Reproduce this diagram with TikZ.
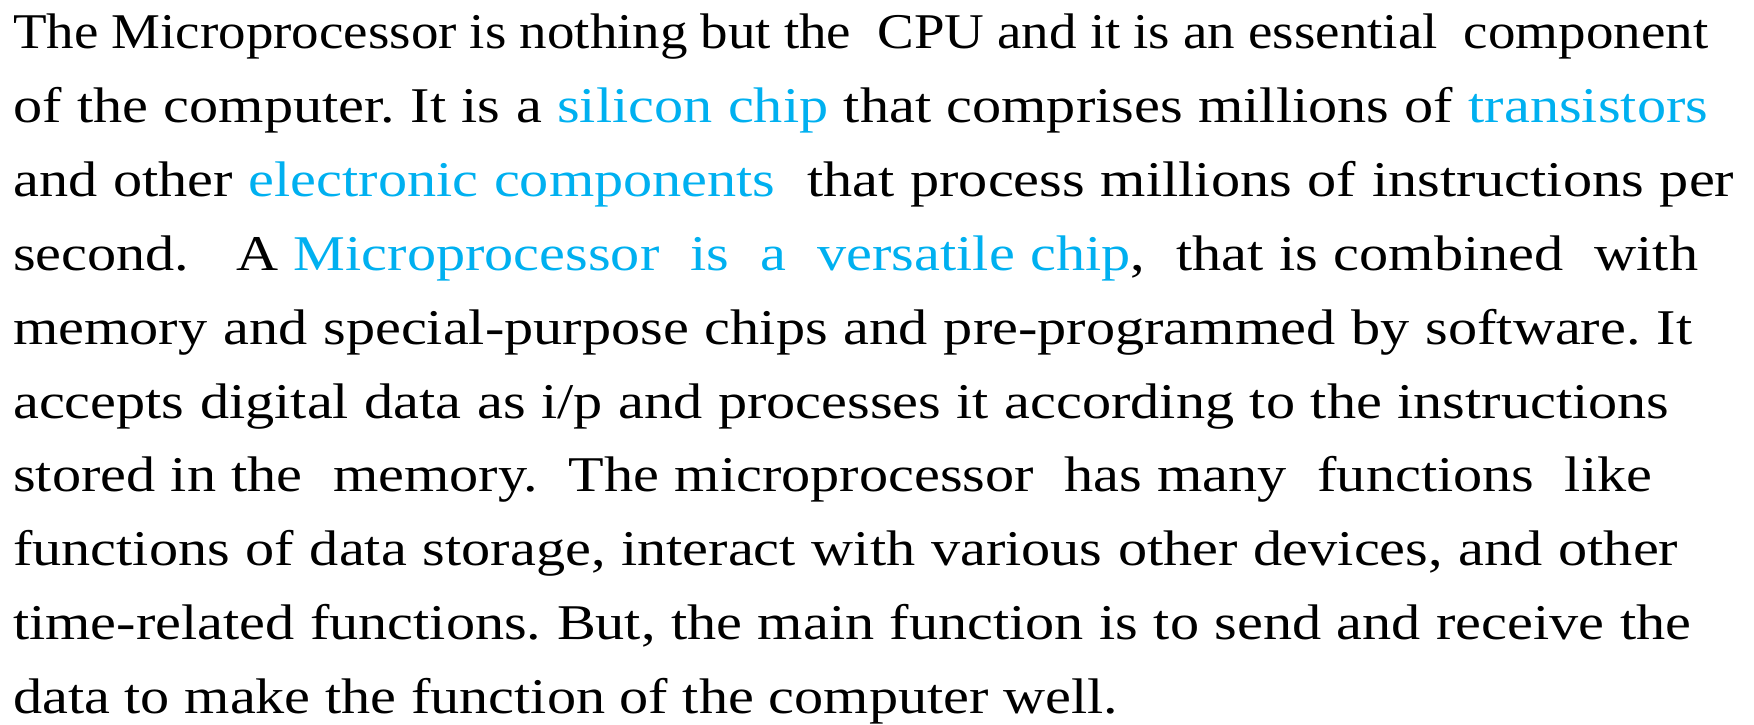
\documentclass[tikz,border=0pt]{standalone}
\usepackage{fontspec}
\setmainfont[FakeStretch=1.165]{Liberation Serif}
\newfontfamily\lineonefont[FakeStretch=1.10]{Liberation Serif}
\definecolor{linkblue}{HTML}{00B0F0}
\newcommand{\hl}[1]{\textcolor{linkblue}{#1}}
\newcommand{\jline}[2]{\makebox[#1pt][s]{#2}}
\tikzset{txtline/.style={anchor=base west, inner sep=0pt, font=\fontsize{50pt}{60pt}\selectfont}}
\begin{document}
\frenchspacing
\begin{tikzpicture}[x=1pt,y=1pt]
\useasboundingbox[fill=white] (0,0) rectangle (1754,-725);
\node[txtline] (l1) at (13,-49) {\lineonefont\jline{1695}{The Microprocessor is nothing but the\ \ CPU and it is an essential\ \ component}};
\node[txtline] (l2) at (13,-122.8) {\jline{1695}{of the computer. It is a \hl{silicon chip} that comprises millions of \hl{transistors}}};
\node[txtline] (l3) at (13,-196.6) {\jline{1721}{and other \hl{electronic components}\ \ that process millions of instructions per}};
\node[txtline] (l4) at (13,-270.4) {\jline{1685}{second.\ \ \ A \hl{Microprocessor\ \ is\ \ a\ \ versatile chip},\ \ that is combined\ \ with}};
\node[txtline] (l5) at (13,-344.2) {\jline{1679}{memory and special-purpose chips and pre-programmed by software. It}};
\node[txtline] (l6) at (13,-418) {\jline{1656}{accepts digital data as i/p and processes it according to the instructions}};
\node[txtline] (l7) at (13,-491.8) {\jline{1639}{stored in the\ \ memory.\ \ The microprocessor\ \ has many\ \ functions\ \ like}};
\node[txtline] (l8) at (13,-565.6) {\jline{1665}{functions of data storage, interact with various other devices, and other}};
\node[txtline] (l9) at (13,-639.4) {\jline{1678}{time-related functions. But, the main function is to send and receive the}};
\node[txtline] (l10) at (13,-713.2) {data to make the function of the computer well.};
\end{tikzpicture}
\end{document}
